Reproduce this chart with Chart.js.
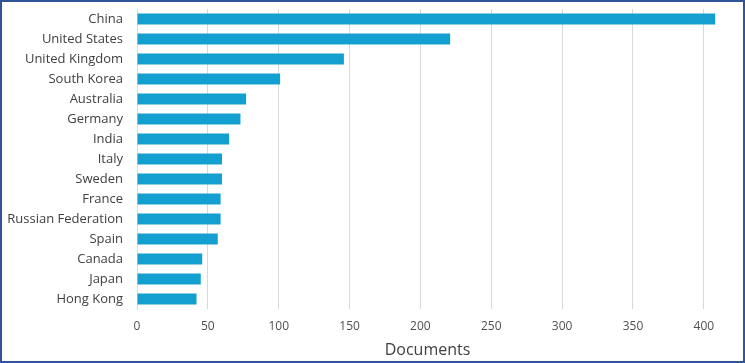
<!DOCTYPE html>
<html>
<head>
<meta charset="utf-8">
<script src="https://cdn.jsdelivr.net/npm/chart.js@4/dist/chart.umd.min.js"></script>
<style>
    html, body { margin: 0; padding: 0; background: #ffffff; }
    #frame {
        width: 745px; height: 363px;
        box-sizing: border-box;
        border: 2px solid #2f5597;
        background: #ffffff;
    }
    #wrap { position: relative; width: 741px; height: 359px; }
</style>
</head>
<body>
<div id="frame"><div id="wrap"><canvas id="chart"></canvas></div></div>
<script>
// Countries, top to bottom
const countries = [
    "China", "United States", "United Kingdom", "South Korea", "Australia",
    "Germany", "India", "Italy", "Sweden", "France",
    "Russian Federation", "Spain", "Canada", "Japan", "Hong Kong"
];

// Number of documents per country
const documents = [408, 221, 146, 101, 77, 73, 65, 60, 60, 59, 59, 57, 46, 45, 42];

const xTicks = [0, 50, 100, 150, 200, 250, 300, 350, 400];
const axisTitle = "Documents";

const fontFamily = "'Open Sans', 'Noto Sans', sans-serif";

const ctx = document.getElementById('chart').getContext('2d');
new Chart(ctx, {
    type: 'bar',
    data: {
        labels: countries,
        datasets: [{
            label: axisTitle,
            data: documents,
            backgroundColor: '#139fd0',
            borderWidth: 0,
            barPercentage: 0.55,
            categoryPercentage: 1
        }]
    },
    options: {
        indexAxis: 'y',
        responsive: true,
        maintainAspectRatio: false,
        animation: false,
        layout: { padding: { top: 7, right: 25, bottom: 0, left: 0 } },
        plugins: {
            legend: { display: false },
            tooltip: { enabled: false }
        },
        scales: {
            x: {
                min: 0,
                max: 410,
                afterBuildTicks: (scale) => {
                    scale.ticks = xTicks.map(v => ({ value: v }));
                },
                afterFit: (scale) => { scale.height = 52; },
                grid: { color: '#d9d9d9', lineWidth: 1, drawTicks: false },
                border: { display: false },
                ticks: {
                    padding: 10,
                    color: '#505050',
                    font: { family: fontFamily, size: 12 }
                },
                title: {
                    display: true,
                    text: axisTitle,
                    color: '#404040',
                    padding: { top: 0, bottom: 1 },
                    font: { family: fontFamily, size: 16 }
                }
            },
            y: {
                afterFit: (scale) => {
                    scale.width = 135;
                    // the tick padding should not push the plot area down
                    scale.paddingTop = 0;
                    scale.paddingBottom = 0;
                },
                grid: { display: false, drawTicks: false },
                border: { display: true, color: '#d9d9d9', width: 1 },
                ticks: {
                    padding: 14,
                    color: '#404040',
                    font: { family: fontFamily, size: 13 }
                }
            }
        }
    }
});
</script>
</body>
</html>
